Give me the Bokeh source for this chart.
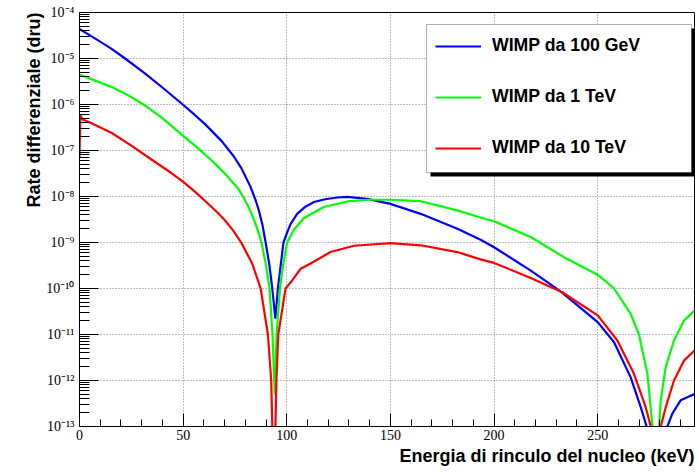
from bokeh.plotting import figure
from bokeh.models import FixedTicker, BoxAnnotation, Legend, LegendItem, Range1d, Title
from bokeh.embed import file_html
from bokeh.resources import INLINE

# Differential rate (dru) vs nuclear recoil energy (keV)
energy_100gev = [0.0, 9.2, 15.5, 22.0, 31.7, 39.7, 49.8, 55.5, 60.7, 68.7, 74.3, 78.0,
                 82.4, 84.9, 86.4, 88.2, 89.8, 91.5, 93.0, 94.5, 95.7, 98.4, 100.2,
                 101.8, 105.0, 109.0, 113.1, 118.5, 124.4, 129.2, 138.8, 150.0, 164.6,
                 182.3, 193.5, 200.0, 217.7, 232.1, 250.0, 257.9, 265.9, 270.8, 273.6,
                 278.5, 283.6, 286.0, 290.0, 296.7]
rate_100gev = [4.4e-5, 2.45e-5, 1.62e-5, 1.0e-5, 4.7e-6, 2.4e-6, 1.0e-6, 6.0e-7, 3.7e-7,
               1.58e-7, 7.6e-8, 4.2e-8, 1.66e-8, 8.5e-9, 5.2e-9, 2.5e-9, 1.0e-9,
               3.5e-10, 1.0e-10, 2.2e-11, 1.0e-10, 1.0e-9, 1.66e-9, 2.5e-9, 4.2e-9,
               6.0e-9, 7.6e-9, 8.7e-9, 9.5e-9, 9.8e-9, 8.9e-9, 6.9e-9, 4.2e-9, 2.0e-9,
               1.15e-9, 7.9e-10, 2.45e-10, 8.7e-11, 1.86e-11, 6.8e-12, 1.17e-12, 2.6e-13,
               1.0e-13, 5.0e-15, 1.0e-13, 1.9e-13, 3.7e-13, 5.1e-13]

energy_1tev = [0.0, 7.6, 15.6, 23.6, 31.7, 39.7, 49.9, 57.4, 63.9, 70.3, 76.7, 79.3,
               81.9, 84.1, 86.0, 87.8, 90.0, 91.7, 93.1, 94.2, 95.1, 96.7, 98.2, 100.2,
               103.4, 108.3, 117.9, 129.2, 140.0, 150.0, 164.6, 182.3, 193.5, 200.0,
               217.7, 233.7, 250.0, 257.9, 265.9, 269.9, 274.0, 276.4, 278.0, 279.6,
               280.4, 282.8, 286.8, 291.6, 296.7]
rate_1tev = [4.5e-6, 3.3e-6, 2.4e-6, 1.58e-6, 9.5e-7, 5.2e-7, 2.1e-7, 1.1e-7, 6.0e-8,
             3.1e-8, 1.45e-8, 9.3e-9, 5.5e-9, 3.2e-9, 1.86e-9, 1.0e-9, 3.2e-10, 1.0e-10,
             1.0e-11, 5.0e-13, 1.0e-11, 1.0e-10, 3.2e-10, 1.0e-9, 1.9e-9, 3.4e-9,
             5.9e-9, 7.8e-9, 8.5e-9, 8.5e-9, 7.9e-9, 5.0e-9, 3.5e-9, 2.9e-9, 1.32e-9,
             4.8e-10, 2.0e-10, 1.0e-10, 2.8e-11, 1.0e-11, 1.4e-12, 1.0e-13, 5.0e-15,
             1.0e-13, 3.7e-13, 1.95e-12, 7.4e-12, 2.0e-11, 3.3e-11]

energy_10tev = [0.0, 0.4, 1.5, 4.3, 15.6, 25.2, 34.9, 44.5, 49.9, 55.8, 60.5, 66.3,
                69.7, 74.0, 78.0, 83.3, 87.4, 90.9, 92.5, 93.8, 95.0, 95.9, 99.4, 102.6,
                106.7, 111.5, 121.1, 132.4, 150.0, 164.6, 182.3, 193.5, 200.0, 217.7,
                232.9, 250.0, 259.5, 267.5, 273.2, 275.6, 277.5, 280.4, 282.8, 286.8,
                291.6, 296.7]
rate_10tev = [7.0e-8, 5.8e-7, 4.7e-7, 4.2e-7, 2.4e-7, 1.26e-7, 6.3e-8, 3.2e-8, 2.1e-8,
              1.26e-8, 8.1e-9, 4.6e-9, 3.2e-9, 1.86e-9, 1.0e-9, 3.5e-10, 1.0e-10,
              1.0e-11, 1.0e-12, 3.0e-15, 1.0e-12, 1.0e-11, 1.0e-10, 1.5e-10, 2.7e-10,
              3.5e-10, 6.2e-10, 8.5e-10, 9.7e-10, 8.7e-10, 6.2e-10, 4.3e-10, 3.6e-10,
              1.7e-10, 8.3e-11, 2.6e-11, 7.4e-12, 1.4e-12, 2.6e-13, 1.0e-13, 3.0e-15,
              1.0e-13, 2.6e-13, 1.0e-12, 2.7e-12, 4.5e-12]

series_labels = ["WIMP da 100 GeV", "WIMP da 1 TeV", "WIMP da 10 TeV"]
series_colors = ["#0000ff", "#00ff00", "#ff0000"]

x_title = "Energia di rinculo del nucleo (keV)"
y_title = "Rate differenziale (dru)"
x_ticks = [0, 50, 100, 150, 200, 250]
x_minor_ticks = [v for v in range(10, 300, 10) if v % 50 != 0]
y_exponents = [-13, -12, -11, -10, -9, -8, -7, -6, -5, -4]
y_tick_labels = ["10⁻¹³", "10⁻¹²", "10⁻¹¹", "10⁻¹⁰", "10⁻⁹", "10⁻⁸",
                 "10⁻⁷", "10⁻⁶", "10⁻⁵", "10⁻⁴"]

W, H = 695, 472
LEFT, RIGHT, TOP, BOTTOM = 79, 1, 12, 46

p = figure(width=W, height=H, output_backend="svg", toolbar_location=None,
           y_axis_type="log",
           x_range=Range1d(0, 296.7), y_range=Range1d(1e-13, 1e-4),
           min_border_left=LEFT, min_border_right=RIGHT,
           min_border_top=TOP, min_border_bottom=BOTTOM)
p.background_fill_color = "white"
p.border_fill_color = "white"
p.outline_line_color = "black"
p.outline_line_width = 1

y_major = [10.0 ** e for e in y_exponents]
y_minor = [k * 10.0 ** e for e in y_exponents[:-1] for k in range(2, 10)]

p.xaxis.ticker = FixedTicker(ticks=x_ticks, minor_ticks=x_minor_ticks)
p.yaxis.ticker = FixedTicker(ticks=y_major, minor_ticks=y_minor)
p.yaxis.major_label_overrides = dict(zip(y_major, y_tick_labels))

for ax in (p.xaxis, p.yaxis):
    ax.axis_line_color = "black"
    ax.major_tick_line_color = "black"
    ax.minor_tick_line_color = "black"
    ax.major_tick_out = 0
    ax.minor_tick_out = 0
    ax.major_label_text_font = "Liberation Serif"
    ax.major_label_text_font_size = "14px"
    ax.major_label_text_color = "black"

p.xaxis.major_tick_in = 13
p.xaxis.minor_tick_in = 7
p.xaxis.major_label_standoff = 3
p.yaxis.major_tick_in = 19
p.yaxis.minor_tick_in = 10
p.yaxis.major_label_standoff = 5

# Axis titles, flush with the far end of each axis
for text, side, gap in ((x_title, "below", 2), (y_title, "left", 0)):
    p.add_layout(Title(text=text, align="right", standoff=gap, offset=0,
                       text_font="Liberation Sans", text_font_style="bold",
                       text_font_size="18px", text_color="black"), side)

for g in (p.xgrid, p.ygrid):
    g.grid_line_color = "#808080"
    g.grid_line_dash = "1 2"
    g.grid_line_width = 1

renderers = []
for xs, ys, color in ((energy_100gev, rate_100gev, series_colors[0]),
                      (energy_1tev, rate_1tev, series_colors[1]),
                      (energy_10tev, rate_10tev, series_colors[2])):
    r = p.line(xs, ys, line_color=color, line_width=2.2)
    renderers.append(r)

frame_h = H - TOP - BOTTOM

# Legend box with drop shadow
p.add_layout(BoxAnnotation(left=351, right=616, top=frame_h - 16, bottom=frame_h - 164,
                           left_units="screen", right_units="screen",
                           top_units="screen", bottom_units="screen",
                           fill_color="black", fill_alpha=1, line_alpha=0))
p.add_layout(BoxAnnotation(left=347, right=612, top=frame_h - 12, bottom=frame_h - 160,
                           left_units="screen", right_units="screen",
                           top_units="screen", bottom_units="screen",
                           fill_color="white", fill_alpha=1,
                           line_color="black", line_width=1))

legend = Legend(items=[LegendItem(label=lab, renderers=[r])
                       for lab, r in zip(series_labels, renderers)],
                location=(356, frame_h - 146), orientation="vertical",
                glyph_width=46, glyph_height=20, label_height=20,
                label_standoff=11, spacing=30, padding=0, margin=0,
                border_line_alpha=0, background_fill_alpha=0,
                label_text_font="Liberation Sans", label_text_font_style="bold",
                label_text_font_size="17.7px", label_text_color="black")
p.add_layout(legend)

open("out.html", "w").write(file_html(p, INLINE))
